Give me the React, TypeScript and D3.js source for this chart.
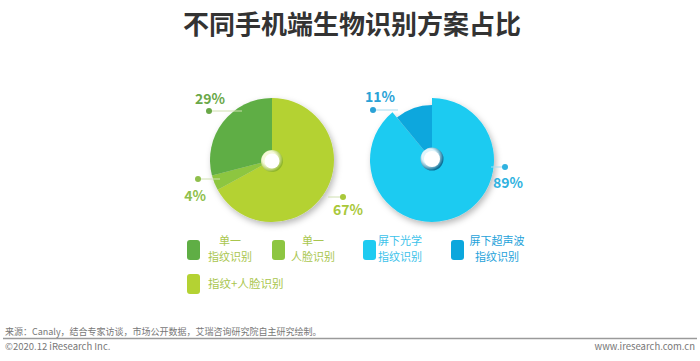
import React from "react";
import * as d3 from "d3";

const title = "不同手机端生物识别方案占比";
const leftCategories = ["指纹+人脸识别", "单一人脸识别", "单一指纹识别"];
const leftValues = [67, 4, 29];
const leftColors = ["#b4d233", "#8dc641", "#5fae45"];
const leftLabelColors = ["#a9c83a", "#8fbf4c", "#6aa848"];
const rightCategories = ["屏下光学指纹识别", "屏下超声波指纹识别"];
const rightValues = [89, 11];
const rightColors = ["#1ecbf1", "#0ba7dd"];
const rightLabelColors = ["#2fb2e0", "#2aa2d6"];

const legendItems = [
  { lines: ["单一", "指纹识别"], color: "#5fae45", text: "#a9c64e" },
  { lines: ["单一", "人脸识别"], color: "#8dc641", text: "#a9c64e" },
  { lines: ["屏下光学", "指纹识别"], color: "#1ecbf1", text: "#3cc2ea" },
  { lines: ["屏下超声波", "指纹识别"], color: "#0ba7dd", text: "#1ea2da" },
  { lines: ["指纹+人脸识别"], color: "#b4d233", text: "#a9c64e" },
];

const source = "来源：Canaly，结合专家访谈，市场公开数据，艾瑞咨询研究院自主研究绘制。";
const copyright = "©2020.12 iResearch Inc.";
const website = "www.iresearch.com.cn";

const FONT = "'Noto Sans CJK SC', 'Noto Sans', sans-serif";

export default function App() {
  const W = 700, H = 361;
  const R = 62;
  const pie = d3.pie<number>().sort(null).value((d) => d).startAngle(0).endAngle(2 * Math.PI);
  const leftArcs = pie(leftValues);
  const rightArcs = pie(rightValues);
  const arcGen = (outer: number) => d3.arc<d3.PieArcDatum<number>>().innerRadius(0).outerRadius(outer);

  const L = { cx: 272, cy: 160 };
  const Rt = { cx: 432, cy: 160 };

  const leftLabels = [
    { dot: [343, 197], lineFrom: 328, text: [348, 215], anchor: "middle" },
    { dot: [198, 179], lineFrom: 220, text: [195, 201], anchor: "middle" },
    { dot: [209, 111], lineFrom: 242, text: [210, 104], anchor: "middle" },
  ];
  const rightLabels = [
    { dot: [505, 167], lineFrom: 491, text: [508, 188], anchor: "middle" },
    { dot: [373, 110], lineFrom: 398, text: [380, 102], anchor: "middle" },
  ];

  const legendX = [187, 272, 363, 451];
  const legendTextX = [230, 313, 400, 497];

  return (
    <svg width={W} height={H} style={{ display: "block", position: "absolute", left: 0, top: 0 }} fontFamily={FONT}>
      <defs>
        <filter id="shadow" x="-30%" y="-30%" width="160%" height="160%">
          <feDropShadow dx="2" dy="3" stdDeviation="3" floodColor="#000" floodOpacity="0.28" />
        </filter>
        <radialGradient id="ringG" cx="0.4" cy="0.4" r="0.6">
          <stop offset="0.55" stopColor="#f4f9d8" />
          <stop offset="1" stopColor="#8fb62a" />
        </radialGradient>
        <radialGradient id="ringB" cx="0.4" cy="0.4" r="0.6">
          <stop offset="0.55" stopColor="#e0f4fb" />
          <stop offset="1" stopColor="#0a6f97" />
        </radialGradient>
      </defs>
      <rect width={W} height={H} fill="#ffffff" />
      <text x={352} y={34} textAnchor="middle" fontSize={26} fontWeight={700} fill="#333333">{title}</text>

      <g transform={`translate(${L.cx},${L.cy})`} filter="url(#shadow)">
        {leftArcs.map((a, i) => (
          <path key={leftCategories[i]} d={arcGen(R)(a) || ""} fill={leftColors[i]} />
        ))}
      </g>
      <g transform={`translate(${L.cx},${L.cy + 1})`}>
        <circle r={11} fill="url(#ringG)" />
        <circle r={7.5} fill="#ffffff" />
      </g>

      <g transform={`translate(${Rt.cx},${Rt.cy})`} filter="url(#shadow)">
        {rightArcs.map((a, i) => (
          <path key={rightCategories[i]} d={arcGen(i === 1 ? 55 : R)(a) || ""} fill={rightColors[i]} />
        ))}
      </g>
      <g transform={`translate(${Rt.cx},${Rt.cy - 1})`}>
        <circle r={11.5} fill="url(#ringB)" />
        <circle r={8} fill="#ffffff" />
      </g>

      {leftLabels.map((l, i) => (
        <g key={"ll" + i}>
          <line x1={l.lineFrom} y1={l.dot[1]} x2={l.dot[0]} y2={l.dot[1]} stroke="#cfe0b0" strokeWidth={1} />
          <circle cx={l.dot[0]} cy={l.dot[1]} r={3} fill={leftLabelColors[i]} />
          <text x={l.text[0]} y={l.text[1]} textAnchor={l.anchor} fontSize={14} fontWeight={700} fill={leftLabelColors[i]}>
            {leftValues[i]}%
          </text>
        </g>
      ))}
      {rightLabels.map((l, i) => (
        <g key={"rl" + i}>
          <line x1={l.lineFrom} y1={l.dot[1]} x2={l.dot[0]} y2={l.dot[1]} stroke="#a8dcef" strokeWidth={1} />
          <circle cx={l.dot[0]} cy={l.dot[1]} r={3} fill={rightLabelColors[i]} />
          <text x={l.text[0]} y={l.text[1]} textAnchor={l.anchor} fontSize={14} fontWeight={700} fill={rightLabelColors[i]}>
            {rightValues[i]}%
          </text>
        </g>
      ))}

      {legendItems.slice(0, 4).map((it, i) => (
        <g key={"lg" + i}>
          <rect x={legendX[i]} y={240} width={13} height={20} rx={3} fill={it.color} />
          {it.lines.map((ln, j) => (
            <text key={j} x={legendTextX[i]} y={245 + j * 16} textAnchor="middle" fontSize={11} fill={it.text}>{ln}</text>
          ))}
        </g>
      ))}
      <g>
        <rect x={187} y={274} width={13} height={20} rx={3} fill={legendItems[4].color} />
        <text x={208} y={288} fontSize={11.5} fill={legendItems[4].text}>{legendItems[4].lines[0]}</text>
      </g>

      <text x={5} y={335} fontSize={9} fill="#777777">{source}</text>
      <line x1={3} x2={697} y1={338.5} y2={338.5} stroke="#9a9a9a" strokeWidth={1.5} />
      <text x={5} y={350} fontSize={9.5} fill="#777777">{copyright}</text>
      <text x={695} y={350} textAnchor="end" fontSize={9.5} fill="#777777">{website}</text>
    </svg>
  );
}
